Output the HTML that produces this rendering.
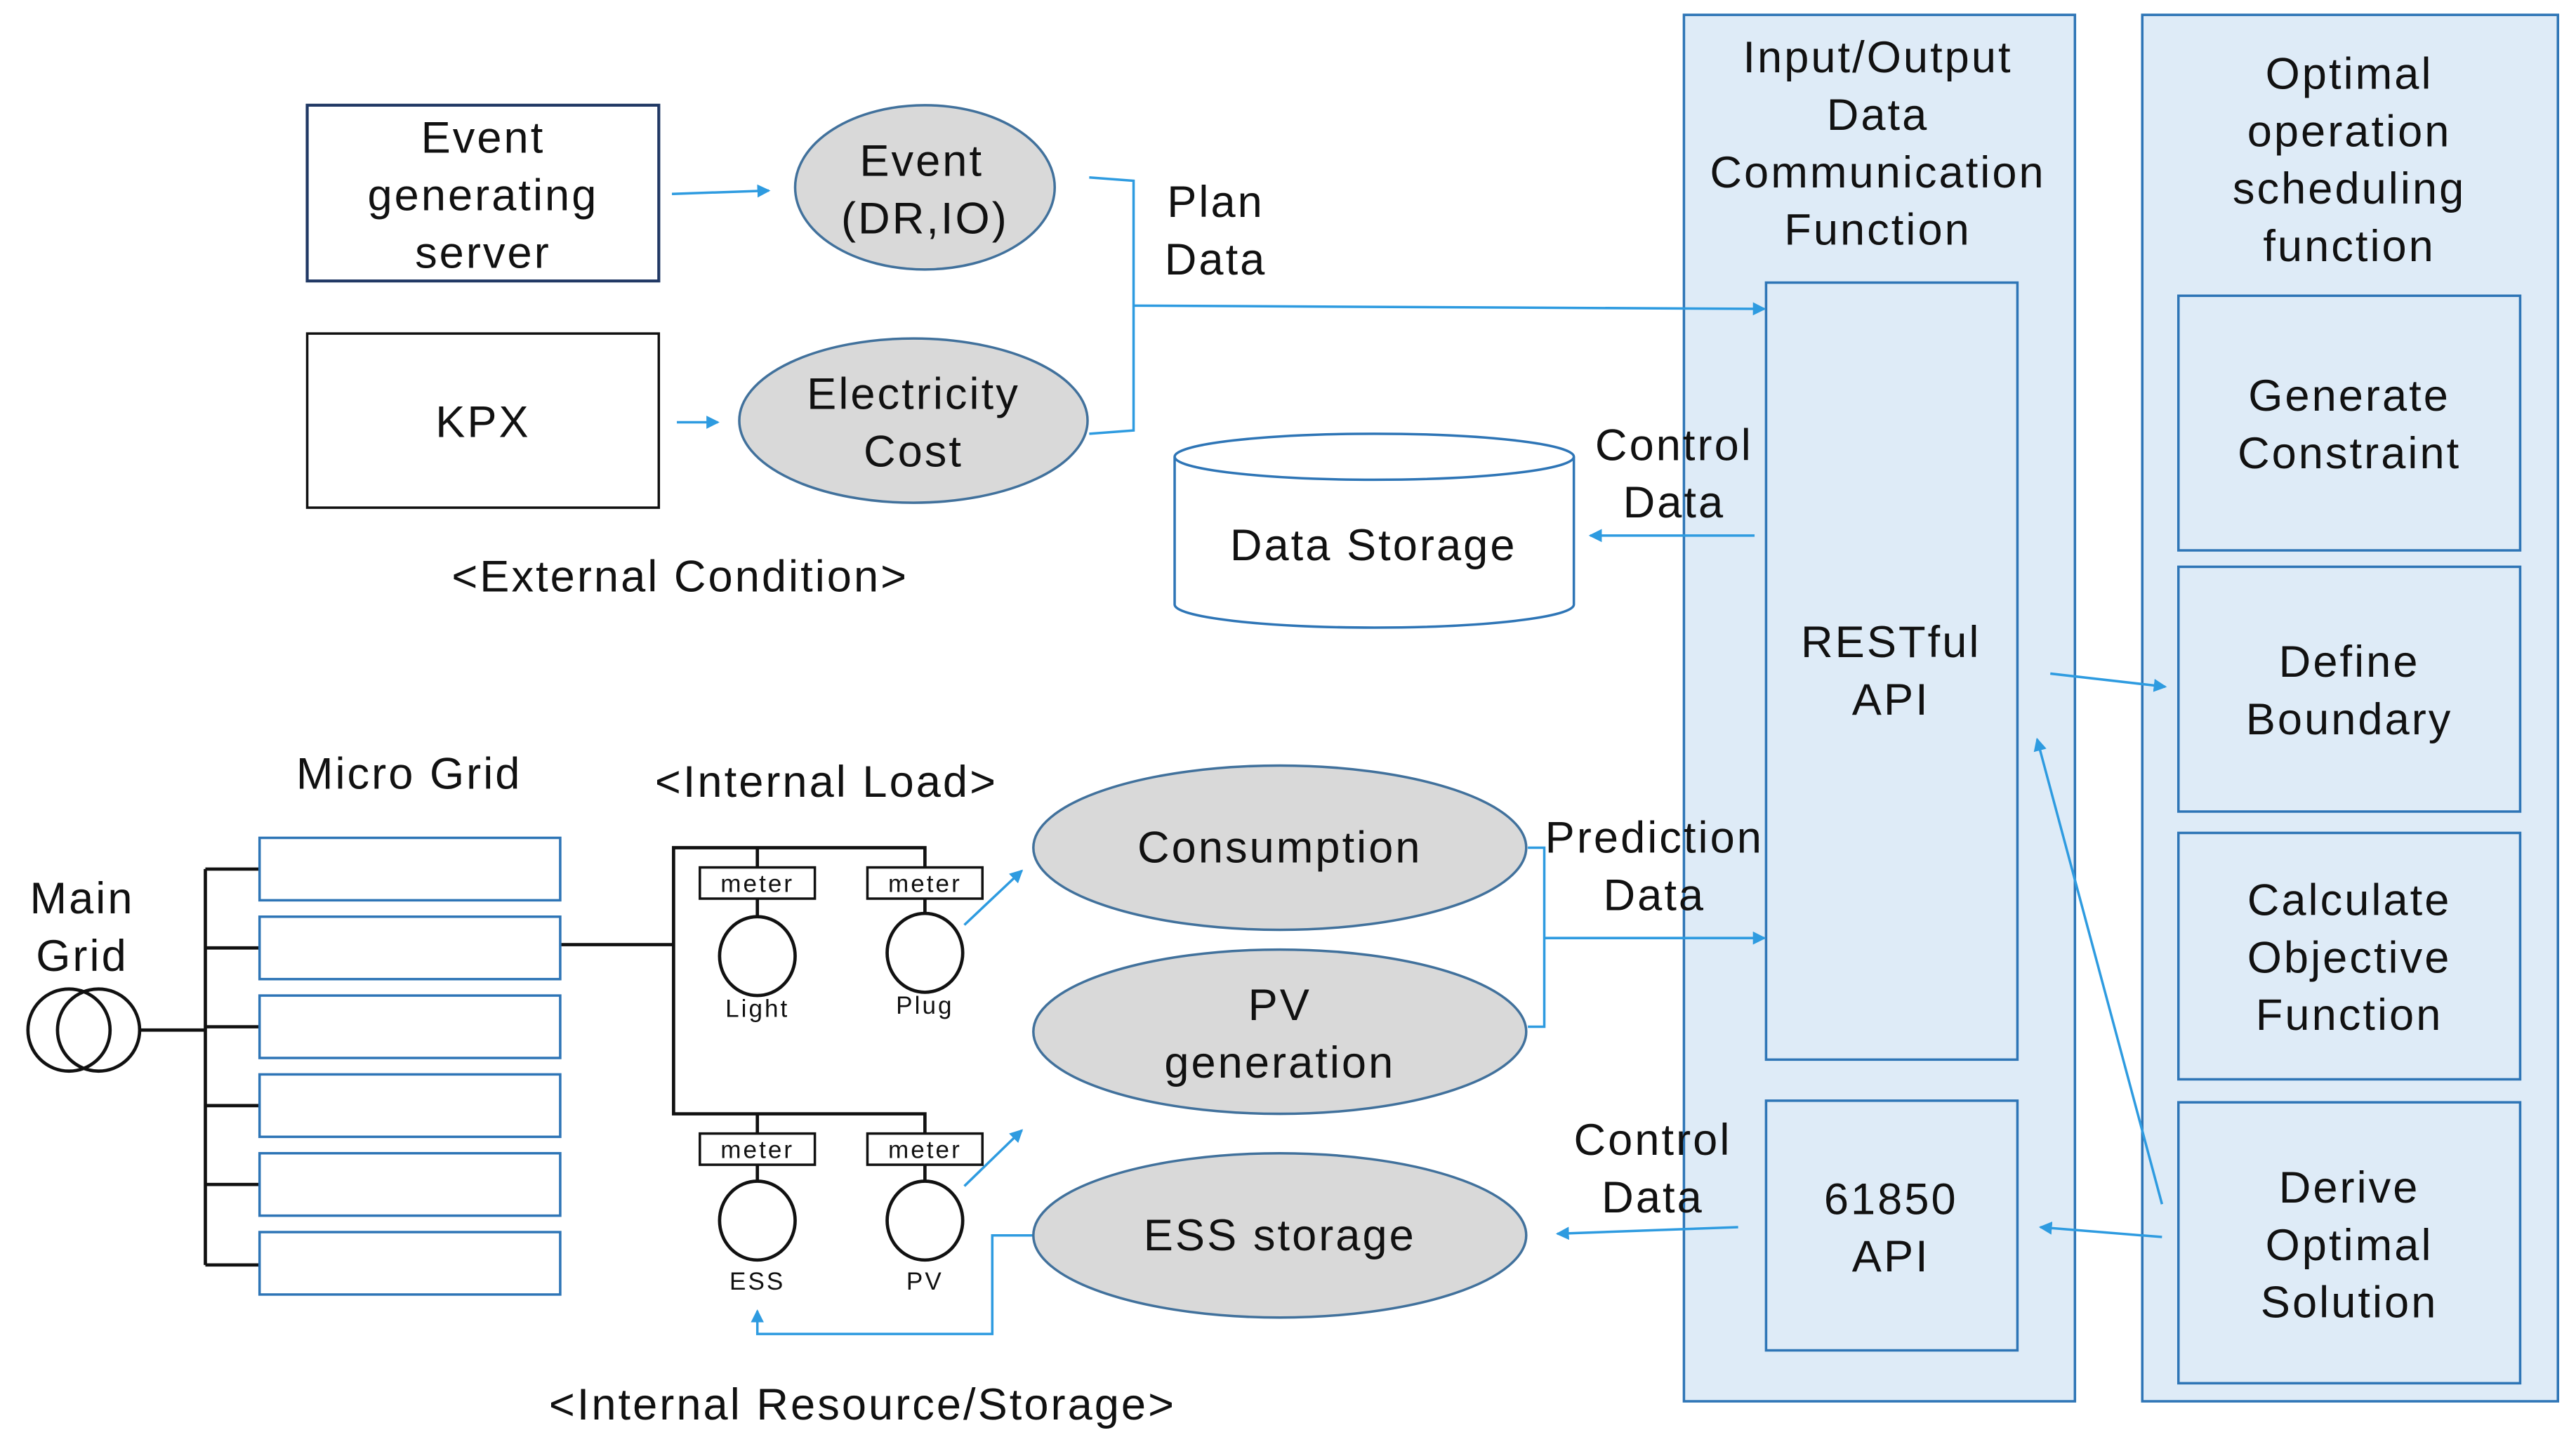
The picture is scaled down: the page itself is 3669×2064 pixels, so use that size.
<!DOCTYPE html>
<html><head><meta charset="utf-8"><style>
html,body{margin:0;padding:0;background:#fff;}
svg{display:block;}
text{font-family:"Liberation Sans","Noto Sans CJK KR",sans-serif;fill:#111;text-anchor:middle;letter-spacing:1.3px;}
</style></head><body>
<svg width="3669" height="2064" viewBox="0 0 1568 882" xmlns="http://www.w3.org/2000/svg">
<defs>
<marker id="a" markerWidth="8" markerHeight="8" refX="7" refY="4" orient="auto" markerUnits="userSpaceOnUse"><path d="M0,0 L8,4 L0,8 z" fill="#2e9be0"/></marker>
</defs>
<rect width="1568" height="882" fill="#fff"/>
<g font-size="27">
<rect x="1025" y="9" width="238" height="844" fill="#deebf7" stroke="#2e75b6" stroke-width="1.5"/>
<rect x="1304" y="9" width="253" height="844" fill="#deebf7" stroke="#2e75b6" stroke-width="1.5"/>
<rect x="1075" y="172" width="153" height="473" fill="#deebf7" stroke="#2e75b6" stroke-width="1.5"/>
<rect x="1075" y="670" width="153" height="152" fill="#deebf7" stroke="#2e75b6" stroke-width="1.5"/>
<rect x="1326" y="180" width="208" height="155" fill="#deebf7" stroke="#2e75b6" stroke-width="1.5"/>
<rect x="1326" y="345" width="208" height="149" fill="#deebf7" stroke="#2e75b6" stroke-width="1.5"/>
<rect x="1326" y="507" width="208" height="150" fill="#deebf7" stroke="#2e75b6" stroke-width="1.5"/>
<rect x="1326" y="671" width="208" height="171" fill="#deebf7" stroke="#2e75b6" stroke-width="1.5"/>
<text x="1143" y="44">Input/Output</text><text x="1143" y="79">Data</text><text x="1143" y="114">Communication</text><text x="1143" y="149">Function</text>
<text x="1430" y="54">Optimal</text><text x="1430" y="89">operation</text><text x="1430" y="124">scheduling</text><text x="1430" y="159">function</text>
<text x="1151" y="400">RESTful</text><text x="1151" y="435">API</text>
<text x="1151" y="739">61850</text><text x="1151" y="774">API</text>
<text x="1430" y="250">Generate</text><text x="1430" y="285">Constraint</text>
<text x="1430" y="412">Define</text><text x="1430" y="447">Boundary</text>
<text x="1430" y="557">Calculate</text><text x="1430" y="592">Objective</text><text x="1430" y="627">Function</text>
<text x="1430" y="732">Derive</text><text x="1430" y="767">Optimal</text><text x="1430" y="802">Solution</text>

<rect x="187" y="64" width="214" height="107" fill="#fff" stroke="#203864" stroke-width="1.8"/>
<rect x="187" y="203" width="214" height="106" fill="#fff" stroke="#111" stroke-width="1.5"/>
<text x="294" y="93">Event</text><text x="294" y="128">generating</text><text x="294" y="163">server</text>
<text x="294" y="266">KPX</text>
<ellipse cx="563" cy="114" rx="79" ry="50" fill="#d9d9d9" stroke="#41719c" stroke-width="1.5"/>
<ellipse cx="556" cy="256" rx="106" ry="50" fill="#d9d9d9" stroke="#41719c" stroke-width="1.5"/>
<text x="561" y="107">Event</text><text x="563" y="142">(DR,IO)</text>
<text x="556" y="249">Electricity</text><text x="556" y="284">Cost</text>
<g stroke="#2e9be0" stroke-width="1.5" fill="none">
<line x1="409" y1="118" x2="468" y2="116" marker-end="url(#a)"/>
<line x1="412" y1="257" x2="437" y2="257" marker-end="url(#a)"/>
<polyline points="663,108 690,110 690,262 663,264"/>
<line x1="690" y1="186" x2="1074" y2="188" marker-end="url(#a)"/>
<line x1="1068" y1="326" x2="968" y2="326" marker-end="url(#a)"/>
<line x1="1248" y1="410" x2="1318" y2="418" marker-end="url(#a)"/>
<line x1="1316" y1="733" x2="1240" y2="450" marker-end="url(#a)"/>
<line x1="1316" y1="753" x2="1242" y2="747" marker-end="url(#a)"/>
<line x1="1058" y1="747" x2="948" y2="751" marker-end="url(#a)"/>
<line x1="587" y1="563" x2="622" y2="530" marker-end="url(#a)"/>
<line x1="587" y1="722" x2="622" y2="688" marker-end="url(#a)"/>
<polyline points="930,516 940,516 940,625 930,625"/>
<line x1="940" y1="571" x2="1074" y2="571" marker-end="url(#a)"/>
<polyline points="629,752 604,752 604,812 461,812 461,798" marker-end="url(#a)"/>
</g>
<text x="740" y="132">Plan</text><text x="740" y="167">Data</text>
<text x="1019" y="280">Control</text><text x="1019" y="315">Data</text>
<path d="M715,278 L715,368 A121.5,14 0 0 0 958,368 L958,278" fill="#fff" stroke="#2e75b6" stroke-width="1.5"/>
<ellipse cx="836.5" cy="278" rx="121.5" ry="14" fill="#fff" stroke="#2e75b6" stroke-width="1.5"/>
<text x="836" y="341">Data Storage</text>
<text x="414" y="360">&lt;External Condition&gt;</text>

<text x="249" y="480">Micro Grid</text>
<text x="50" y="556">Main</text><text x="50" y="591">Grid</text>
<g stroke="#111" stroke-width="2" fill="none">
<circle cx="42" cy="627" r="25"/><circle cx="60" cy="627" r="25"/>
<line x1="85" y1="627" x2="125" y2="627"/>
<line x1="125" y1="529" x2="125" y2="770"/>
<line x1="125" y1="529" x2="158" y2="529"/><line x1="125" y1="577" x2="158" y2="577"/>
<line x1="125" y1="625" x2="158" y2="625"/><line x1="125" y1="673" x2="158" y2="673"/>
<line x1="125" y1="721" x2="158" y2="721"/><line x1="125" y1="770" x2="158" y2="770"/>
<line x1="341" y1="575" x2="410" y2="575"/>
<polyline points="563,528 563,516 410,516 410,678 563,678 563,690"/>
<line x1="461" y1="516" x2="461" y2="528"/><line x1="461" y1="678" x2="461" y2="690"/>
<line x1="461" y1="547" x2="461" y2="558"/><line x1="563" y1="547" x2="563" y2="556"/>
<line x1="461" y1="709" x2="461" y2="719"/><line x1="563" y1="709" x2="563" y2="719"/>
<ellipse cx="461" cy="582" rx="23" ry="24"/><ellipse cx="563" cy="580" rx="23" ry="24"/>
<ellipse cx="461" cy="743" rx="23" ry="24"/><ellipse cx="563" cy="743" rx="23" ry="24"/>
</g>
<g fill="#fff" stroke="#111" stroke-width="1.5">
<rect x="426" y="528" width="70" height="19"/><rect x="528" y="528" width="70" height="19"/>
<rect x="426" y="690" width="70" height="19"/><rect x="528" y="690" width="70" height="19"/>
</g>
<g fill="#fff" stroke="#2e75b6" stroke-width="1.5">
<rect x="158" y="510" width="183" height="38"/><rect x="158" y="558" width="183" height="38"/>
<rect x="158" y="606" width="183" height="38"/><rect x="158" y="654" width="183" height="38"/>
<rect x="158" y="702" width="183" height="38"/><rect x="158" y="750" width="183" height="38"/>
</g>
<g font-size="15">
<text x="461" y="543">meter</text><text x="563" y="543">meter</text>
<text x="461" y="705">meter</text><text x="563" y="705">meter</text>
<text x="461" y="619">Light</text><text x="563" y="617">Plug</text>
<text x="461" y="785">ESS</text><text x="563" y="785">PV</text>
</g>
<text x="503" y="485">&lt;Internal Load&gt;</text>
<ellipse cx="779" cy="516" rx="150" ry="50" fill="#d9d9d9" stroke="#41719c" stroke-width="1.5"/>
<ellipse cx="779" cy="628" rx="150" ry="50" fill="#d9d9d9" stroke="#41719c" stroke-width="1.5"/>
<ellipse cx="779" cy="752" rx="150" ry="50" fill="#d9d9d9" stroke="#41719c" stroke-width="1.5"/>
<text x="779" y="525">Consumption</text>
<text x="779" y="621">PV</text><text x="779" y="656">generation</text>
<text x="779" y="761">ESS storage</text>
<text x="1007" y="519">Prediction</text><text x="1007" y="554">Data</text>
<text x="1006" y="703">Control</text><text x="1006" y="738">Data</text>
<text x="525" y="864">&lt;Internal Resource/Storage&gt;</text>
</g>
</svg>
</body></html>
